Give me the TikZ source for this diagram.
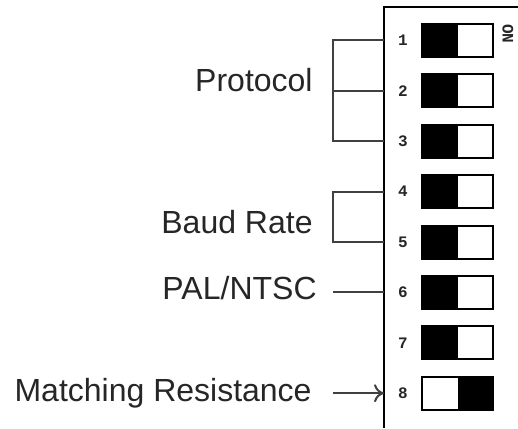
\documentclass[tikz,border=0pt]{standalone}
\usepackage{fontspec}
\setmainfont{Liberation Sans}
\newfontfamily\digitfont{Liberation Mono}
\usetikzlibrary{positioning,arrows.meta}

\begin{document}
\begin{tikzpicture}[x=0.5pt, y=-0.5pt, node distance={25.2pt},
	sw/.style = {draw, line width=1pt, minimum width=35.5pt, minimum height=16.5pt, inner sep=0pt},
	onleft/.style = {sw, path picture={\fill (path picture bounding box.south west) rectangle (path picture bounding box.north);}},
	onright/.style = {sw, path picture={\fill (path picture bounding box.south) rectangle (path picture bounding box.north east);}},
	num/.style = {font=\digitfont\bfseries\fontsize{8pt}{9pt}\selectfont, text=black!85, inner sep=0pt},
	lbl/.style = {font=\fontsize{16pt}{18pt}\selectfont, text=black!85, anchor=east, inner sep=0pt},
	wire/.style = {line width=1pt, black!75}]
	\useasboundingbox (0,0) rectangle (518,428);
	% board edge
	\coordinate (corner) at (384,7);
	\coordinate (topend) at (518,7);
	\coordinate (botend) at (384,428);
	\draw[line width=1pt] (botend) -- (corner) -- (topend);
	\coordinate (edge) at (384,0);
	\coordinate (col) at (333,0);
	% switches
	\node[onleft] (s1) at (457.5,40.4) {};
	\node[onleft] [below of=s1] (s2) {};
	\node[onleft] [below of=s2] (s3) {};
	\node[onleft] [below of=s3] (s4) {};
	\node[onleft] [below of=s4] (s5) {};
	\node[onleft] [below of=s5] (s6) {};
	\node[onleft] [below of=s6] (s7) {};
	\node[onright] [below of=s7] (s8) {};
	\node[num] [left of=s1, node distance=27.25pt] (n1) {1};
	\node[num] [left of=s2, node distance=27.25pt] (n2) {2};
	\node[num] [left of=s3, node distance=27.25pt] (n3) {3};
	\node[num] [left of=s4, node distance=27.25pt] (n4) {4};
	\node[num] [left of=s5, node distance=27.25pt] (n5) {5};
	\node[num] [left of=s6, node distance=27.25pt] (n6) {6};
	\node[num] [left of=s7, node distance=27.25pt] (n7) {7};
	\node[num] [left of=s8, node distance=27.25pt] (n8) {8};
	\node[num, rotate=-90] (on) at (508,34) {ON};
	% labels
	\node[lbl] (proto) at (313,80) {Protocol};
	\node[lbl] (baud) at (313,222) {Baud Rate};
	\node[lbl] (pal) at (317,288) {PAL/NTSC};
	\node[lbl] (match) at (312,393) {Matching Resistance};
	% leaders
	\draw[wire] (s1 -| edge) -- (s1 -| col) -- (s3 -| col) -- (s3 -| edge);
	\draw[wire] (s2 -| col) -- (s2 -| edge);
	\draw[wire] (s4 -| edge) -- (s4 -| col) -- (s5 -| col) -- (s5 -| edge);
	\draw[wire] (s6 -| col) -- (s6 -| edge);
	\draw[wire, -{To[length=5pt, width=9pt]}] (s8 -| col) -- (s8 -| edge);
\end{tikzpicture}
\end{document}
